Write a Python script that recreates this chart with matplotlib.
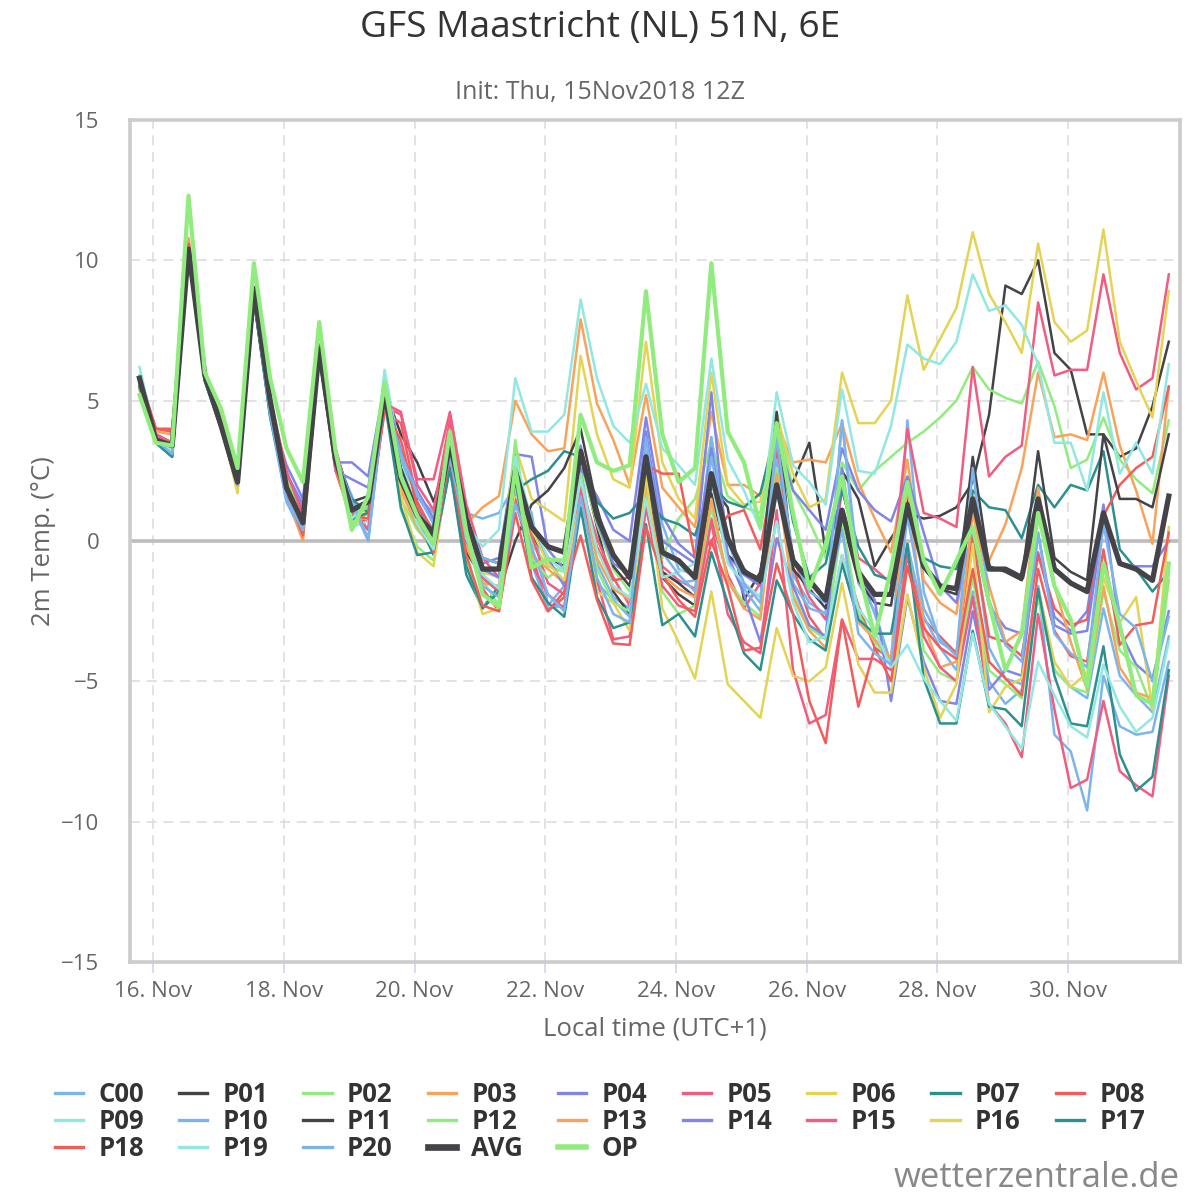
import matplotlib.pyplot as plt
from matplotlib.lines import Line2D
import pandas as pd

plt.rcParams['font.family'] = ['Open Sans', 'DejaVu Sans']

# 6-hourly steps, local time (UTC+1), init 15 Nov 2018 12Z
times = pd.date_range('2018-11-15 19:00', periods=64, freq='6h')

c00 = [5.8, 3.6, 3.1, 10.3, 5.8, 4.0, 2.0, 8.7, 4.5, 1.4, 0.3, 6.8, 3.0, 1.6, 0.0, 5.0,
       3.2, 1.6, 0.7, 3.2, 1.0, 0.8, 1.0, 2.0,
       1.0, -2.3, -1.6, 2.6, -0.8, -2.0, -2.4, 3.7,
       0.6, -1.0, -1.2, 3.7, 0.1, -1.6, -2.0, 2.9,
       -1.2, -2.2, -2.6, 4.3, -1.5, -2.5, -4.4, 4.3,
       -1.8, -3.6, -4.0, 0.3, -3.8, -4.9, -5.1, -1.6,
       -4.6, -5.2, -5.6, -2.4, -4.8, -5.5, -6.1, -3.4]
p01 = [5.7, 3.8, 3.5, 10.4, 6.0, 4.3, 2.2, 8.8, 4.9, 2.3, 1.0, 6.8, 3.2, 1.4, 1.6, 5.4,
       3.8, 2.8, 1.4, 3.3, 0.6, -0.6, -0.8, 2.2,
       0.2, -0.6, -0.9, 3.0, 0.5, -1.8, -2.6, 2.3,
       -1.3, -1.9, -2.3, 2.0, 1.2, -2.1, -1.1, 2.6,
       2.1, 3.5, -0.4, 2.5, 1.5, -0.9, 0.1, 1.0,
       0.8, 0.9, 1.2, 2.1, 4.5, 9.1, 8.8, 10.0,
       6.7, 6.1, 3.8, 3.8, 3.0, 3.3, 4.8, 7.1]
p02 = [5.4, 3.6, 3.3, 10.6, 6.0, 4.4, 2.3, 9.0, 5.0, 2.3, 0.9, 7.0, 3.0, 0.7, 1.5, 5.5,
       1.5, 0.4, -0.2, 3.6, 0.2, -1.2, -0.9, 3.0,
       -0.1, -0.9, -1.1, 2.8, 0.6, -1.0, -1.8, 2.4,
       -0.6, 0.8, 1.5, 3.5, 1.6, 1.2, 1.0, 4.6,
       1.8, 0.7, -0.6, 2.8, 1.8, 2.5, 3.0, 3.5,
       3.9, 4.4, 5.0, 6.2, 5.4, 5.1, 4.9, 6.4,
       4.8, 2.6, 2.9, 4.4, 2.9, 2.2, 1.7, 4.3]
p03 = [5.8, 4.0, 3.9, 10.8, 6.1, 4.1, 1.9, 8.7, 4.7, 1.6, 0.0, 6.6, 2.6, 1.0, 1.2, 5.1,
       1.8, 0.5, -0.4, 3.2, 0.6, 1.2, 1.6, 5.0,
       3.8, 3.2, 3.3, 7.9, 4.9, 3.6, 2.0, 5.2,
       1.9, 1.2, 0.5, 4.6, 2.0, 2.0, 1.6, 4.2,
       2.8, 2.9, 2.8, 4.2, 2.1, 0.8, -0.4, 2.9,
       -1.4, -2.2, -2.6, 1.7, -0.7, 0.6, 2.6, 6.0,
       3.7, 3.8, 3.6, 6.0, 3.4, 1.8, -0.1, 5.5]
p04 = [5.6, 3.7, 3.3, 10.4, 5.9, 4.2, 2.4, 8.7, 4.6, 2.7, 1.5, 6.6, 2.8, 2.8, 2.3, 5.6,
       2.6, 1.2, 0.4, 3.0, 0.2, -0.8, -0.6, 3.1,
       3.0, -0.3, -1.0, 2.6, 1.6, 0.4, 0.0, 4.4,
       0.9, -0.1, -0.6, 5.3, -0.5, -1.2, -1.6, 3.7,
       1.8, 1.1, 0.4, 3.3, 1.8, 1.1, 0.7, 2.3,
       0.3, -1.6, -2.2, 0.4, -2.3, -3.1, -3.3, -0.4,
       -2.7, -3.2, -2.5, 1.3, -3.2, -4.4, -4.9, -2.5]
p05 = [5.7, 3.8, 3.5, 10.6, 5.9, 4.2, 2.0, 8.9, 5.0, 2.4, 1.2, 7.0, 3.3, 1.2, 0.4, 4.8,
       4.5, 2.2, 2.2, 4.6, 1.3, -0.6, -1.3, 2.2,
       0.2, -1.5, -1.9, 2.0, 0.1, -1.3, -2.3, 2.9,
       -0.9, -1.4, -1.7, 0.8, -1.2, -2.4, -1.5, 3.4,
       -0.6, -2.0, -2.8, 1.9, -0.6, -1.0, -1.5, 4.0,
       1.0, 0.8, 0.5, 6.2, 2.3, 3.0, 3.4, 8.5,
       5.9, 6.1, 6.1, 9.5, 6.7, 5.4, 5.8, 9.5]
p06 = [5.5, 3.7, 3.4, 10.4, 5.8, 4.2, 1.8, 8.9, 4.8, 1.9, 0.4, 6.7, 2.6, 0.6, 1.1, 5.2,
       2.3, 0.8, 0.0, 3.3, 0.4, -1.1, -1.3, 3.4,
       1.5, 1.1, 0.7, 6.6, 3.8, 2.2, 1.9, 7.1,
       2.8, 1.5, 0.8, 6.0, 2.0, 1.3, 1.4, 4.5,
       2.4, 1.2, 1.5, 6.0, 4.2, 4.2, 5.0, 8.75,
       6.1, 7.2, 8.3, 11.0, 8.8, 7.8, 6.7, 10.6,
       7.8, 7.1, 7.5, 11.1, 7.1, 5.7, 4.4, 8.9]
p07 = [5.5, 3.5, 3.0, 10.2, 5.7, 4.0, 2.0, 8.6, 4.5, 1.6, 0.3, 6.6, 2.7, 1.5, 1.0, 5.0,
       2.2, 0.8, -0.5, 2.6, -1.2, -2.4, -1.6, 1.8,
       2.2, 2.5, 3.2, 3.0, 1.4, 0.8, 1.0, 1.7,
       0.8, 0.6, 0.2, 2.0, 1.4, 1.2, 1.7, 4.0,
       0.7, -1.3, -0.8, 1.8, -0.2, -1.2, -1.4, 1.6,
       -0.6, -0.9, -1.0, 1.8, 1.2, 1.1, 0.1, 2.0,
       1.2, 2.0, 1.8, 3.2, -0.3, -1.0, -1.8, -1.1]
p08 = [5.9, 4.0, 4.0, 10.7, 6.0, 4.3, 2.2, 8.8, 4.6, 1.9, 0.3, 6.7, 2.5, 0.8, 0.7, 4.6,
       4.2, 1.4, 0.3, 3.7, 0.3, -1.7, -2.5, 1.4,
       -0.4, -2.5, -2.0, 1.8, -0.2, -1.4, -1.3, 2.7,
       2.4, 2.4, -0.6, 0.0, 0.9, 1.1, -0.3, 3.1,
       -0.9, -2.7, -3.5, -0.5, -2.3, -3.8, -4.2, -0.4,
       -2.8, -3.4, -4.0, 0.1, -3.4, -3.6, -4.1, -0.5,
       -2.4, -3.0, -2.8, 0.9, 2.0, 2.6, 3.0, 5.5]
p09 = [6.2, 3.7, 3.3, 10.3, 5.8, 4.1, 2.0, 8.7, 4.6, 1.8, 0.5, 6.8, 2.9, 0.5, 0.7, 6.1,
       3.0, 0.9, 0.4, 3.4, 0.6, -0.2, 0.4, 5.8,
       3.9, 3.9, 4.5, 8.6, 5.8, 4.1, 3.5, 5.6,
       3.3, 2.7, 2.0, 6.5, 2.9, 1.8, 0.4, 5.3,
       2.7, 2.1, 1.3, 5.4, 2.5, 2.4, 4.1, 7.0,
       6.5, 6.3, 7.1, 9.5, 8.2, 8.4, 7.7, 6.3,
       3.5, 3.5, 1.8, 5.3, 2.4, 3.5, 2.4, 6.3]
p10 = [5.6, 3.5, 3.0, 10.2, 5.8, 4.0, 2.0, 8.7, 4.4, 1.4, 0.2, 6.8, 3.0, 1.3, 0.0, 5.1,
       2.9, 1.6, 1.0, 3.1, 0.8, -0.6, -0.8, 2.0,
       -0.8, -2.4, -2.3, 1.2, -1.5, -2.1, -2.7, 3.2,
       -1.1, -1.5, -1.4, 3.7, -0.6, -1.7, -2.5, 2.9,
       -1.5, -2.4, -2.6, 4.3, -1.0, -2.6, -4.4, -0.1,
       -2.7, -3.8, -4.6, -1.8, -5.0, -5.8, -5.3, -1.6,
       -6.9, -7.5, -9.6, -4.8, -6.6, -6.9, -6.8, -4.3]
p11 = [5.5, 3.6, 3.3, 10.2, 5.7, 4.1, 2.0, 8.6, 4.6, 1.8, 0.5, 6.7, 2.7, 0.9, 1.2, 5.2,
       2.6, 1.1, 0.1, 2.8, -0.4, -1.3, -1.8, 0.0,
       1.3, 1.8, 2.6, 4.0, 1.2, -0.9, -1.6, 2.1,
       -1.1, -1.5, -2.0, 1.7, -0.5, -1.0, -1.5, 4.6,
       -1.0, -1.7, -2.4, 0.8, -1.4, -2.2, -2.3, 1.6,
       -0.8, -1.7, -1.9, 3.0, -0.9, -1.1, -1.4, 3.2,
       -0.6, -1.1, -1.4, 3.8, 1.5, 1.5, 1.2, 3.8]
p12 = [5.4, 3.6, 3.2, 10.4, 5.9, 4.3, 2.2, 8.9, 4.8, 2.2, 0.8, 6.9, 2.8, 0.9, 1.2, 5.4,
       1.1, -0.2, -0.7, 3.7, 0.0, -1.4, -2.3, 3.6,
       -0.6, -1.3, -0.9, 2.4, -1.0, -2.2, -2.5, 1.7,
       -1.8, -2.6, -2.3, 1.2, -1.4, -2.2, -2.7, 2.6,
       -1.9, -3.1, -3.5, 0.7, -2.6, -3.6, -4.3, -0.2,
       -3.9, -4.7, -5.0, -1.3, -4.6, -5.1, -5.6, -2.0,
       -4.6, -5.2, -5.4, -1.8, -3.9, -4.5, -6.0, -1.4]
p13 = [5.6, 3.9, 3.8, 10.7, 6.0, 4.0, 1.9, 8.8, 4.6, 1.7, 0.1, 6.7, 2.6, 0.8, 1.0, 5.0,
       2.0, 0.7, 0.0, 3.0, -0.2, -1.5, -1.6, 2.3,
       -0.5, -1.0, -1.5, 2.2, -0.6, -1.7, -2.1, 2.0,
       -1.2, -1.7, -2.0, 1.5, -1.4, -2.4, -2.8, 2.4,
       -2.0, -3.2, -3.8, -0.7, -2.9, -3.5, -4.2, 2.0,
       -3.0, -4.5, -4.3, 1.0, -1.6, -3.6, -3.2, 1.9,
       -1.6, -3.6, -5.3, -1.6, -4.5, -5.4, -5.6, -1.1]
p14 = [5.7, 3.7, 3.4, 10.5, 5.9, 4.2, 2.1, 8.8, 4.5, 2.4, 1.3, 6.8, 2.5, 2.2, 1.9, 5.6,
       3.2, 1.8, 0.8, 3.3, 0.0, -1.0, -1.3, 1.9,
       0.5, -0.6, -1.6, 3.4, 0.7, -0.8, -1.2, 3.9,
       0.0, -0.4, -0.8, 3.3, -0.5, -1.9, -3.6, 0.1,
       -1.6, -3.0, -3.4, 2.6, -1.2, -2.1, -5.7, -2.0,
       -4.3, -5.7, -5.8, -2.5, -5.3, -4.6, -4.8, 0.3,
       -3.0, -3.3, -3.2, 0.8, -0.8, -0.9, -0.9, 0.0]
p15 = [5.5, 3.7, 3.5, 10.5, 5.9, 4.3, 2.2, 8.9, 5.1, 2.5, 0.9, 6.9, 3.0, 1.0, 0.4, 4.9,
       4.6, 2.0, 1.1, 4.3, 0.9, -1.3, -1.8, 1.5,
       -0.8, -1.9, -2.4, 1.9, -1.4, -3.5, -3.4, 1.2,
       -1.6, -2.3, -2.5, 0.7, -2.6, -3.6, -4.0, 1.1,
       -4.6, -6.5, -6.2, -2.8, -4.2, -4.2, -4.6, -0.5,
       -3.4, -4.5, -5.0, -2.0, -5.8, -6.5, -7.7, -2.6,
       -6.0, -8.8, -8.5, -5.7, -8.2, -8.7, -9.1, -4.8]
p16 = [5.4, 3.6, 3.3, 10.3, 5.8, 4.2, 1.7, 8.8, 4.9, 2.1, 0.5, 6.8, 2.8, 0.5, 1.0, 5.3,
       1.6, -0.4, -0.9, 3.1, -0.7, -2.6, -2.4, 1.9,
       0.4, -0.8, -1.4, 1.5, -1.8, -2.2, -3.2, 2.4,
       -2.4, -3.6, -4.9, -1.8, -5.1, -5.7, -6.3, -3.1,
       -4.8, -5.0, -4.5, -1.5, -4.4, -5.4, -5.4, -1.9,
       -4.5, -6.3, -5.1, -0.1, -6.1, -5.2, -4.9, -1.7,
       -4.3, -5.2, -4.7, -1.3, -2.9, -2.0, -6.0, 0.5]
p17 = [5.5, 3.5, 3.0, 10.2, 5.7, 4.0, 2.0, 8.6, 4.4, 1.7, 0.3, 6.6, 2.7, 0.8, 1.0, 5.0,
       1.2, -0.5, -0.4, 2.6, -0.9, -2.4, -1.8, 2.2,
       -1.3, -2.2, -2.7, 1.2, -2.0, -3.1, -2.9, 0.6,
       -3.0, -2.6, -3.4, -0.4, -2.2, -4.0, -4.6, -1.4,
       -2.6, -3.5, -3.9, -0.8, -2.8, -3.3, -3.3, -0.1,
       -4.9, -6.5, -6.5, -3.2, -5.9, -6.0, -6.6, -1.7,
       -4.8, -6.5, -6.6, -3.75, -7.6, -8.9, -8.4, -4.6]
p18 = [5.8, 4.0, 3.9, 10.6, 6.0, 4.2, 2.0, 8.7, 4.7, 1.8, 0.2, 6.7, 2.6, 0.9, 0.8, 4.7,
       3.6, 1.2, -0.4, 3.1, -0.5, -2.3, -2.5, 1.0,
       -1.4, -2.5, -1.8, 0.2, -2.1, -3.65, -3.7, 0.5,
       -1.2, -2.1, -2.7, 0.0, -1.6, -3.9, -3.8, -0.8,
       -2.6, -5.7, -7.2, -2.8, -5.9, -3.8, -5.0, -0.9,
       -3.1, -3.8, -4.2, -1.0, -4.3, -4.9, -5.5, -1.0,
       -3.2, -4.1, -4.3, -0.3, -3.7, -3.0, -2.9, 0.3]
p19 = [5.9, 3.6, 3.2, 10.3, 5.8, 4.0, 2.0, 8.8, 4.7, 1.9, 0.4, 6.7, 3.0, 0.8, 1.4, 5.9,
       2.4, 0.6, -0.3, 3.4, 0.1, -1.2, -1.7, 3.0,
       0.7, -0.6, -1.1, 2.2, -0.3, -1.6, -2.0, 1.5,
       -1.3, -1.1, -0.8, 2.2, -0.8, -1.5, -2.0, 0.7,
       -2.2, -3.6, -3.4, -0.5, -2.4, -3.2, -4.5, -3.7,
       -4.9, -5.7, -6.4, -3.3, -5.8, -6.6, -7.4, -4.3,
       -5.5, -6.6, -7.0, -4.4, -5.9, -6.8, -6.3, -3.6]
p20 = [5.7, 3.6, 3.1, 10.3, 5.8, 4.1, 2.0, 8.8, 4.5, 1.5, 0.4, 6.9, 3.1, 1.4, 0.1, 5.1,
       3.1, 1.7, 0.6, 3.0, 0.2, -1.6, -2.0, 1.3,
       -0.2, -1.9, -2.5, 1.6, -1.3, -2.6, -2.9, 3.7,
       -0.4, -1.2, -1.8, 3.0, 0.0, -1.5, -2.2, 3.7,
       -0.6, -1.8, -2.2, 0.4, -3.3, -4.0, -4.4, 0.9,
       -2.4, -3.5, -4.1, 2.6, -2.1, -3.7, -4.3, 0.3,
       -3.3, -4.0, -4.5, 0.6, -2.6, -3.1, -5.0, -2.7]
avg = [5.8, 3.6, 3.4, 10.4, 5.9, 4.1, 2.1, 9.0, 5.0, 1.9, 0.65, 6.85, 2.9, 1.1, 1.4, 5.3,
       2.2, 0.9, 0.3, 3.5, 0.8, -1.0, -1.0, 2.5,
       0.5, -0.2, -0.4, 3.2, 0.9, -0.5, -1.3, 3.0,
       -0.4, -0.7, -1.3, 2.4, 0.1, -1.1, -1.4, 2.0,
       -0.7, -1.4, -2.1, 1.1, -1.1, -1.9, -1.9, 1.3,
       -0.9, -1.6, -1.7, 1.5, -1.0, -1.0, -1.3, 1.5,
       -1.0, -1.5, -1.8, 1.0, -0.8, -1.0, -1.4, 1.6]
op = [5.2, 3.5, 3.4, 12.3, 6.0, 4.7, 2.6, 9.9, 5.8, 3.3, 2.1, 7.8, 3.2, 0.4, 1.6, 5.65,
      2.3, 0.9, -0.1, 3.9, 0.35, -1.9, -2.35, 2.6,
      -0.95, -0.65, -0.7, 4.5, 2.8, 2.5, 2.7, 8.9,
      3.8, 2.1, 2.6, 9.9, 3.9, 2.8, 0.5, 4.2,
      1.0, -1.7, -0.1, 2.3, -1.0, -3.4, -1.0, 2.1,
      -0.7, -1.9, -0.7, 0.5, -2.2, -4.6, -3.3, 1.0,
      -1.6, -2.8, -5.2, -0.8, -3.0, -5.5, -5.8, -0.8]

names = ['C00', 'P01', 'P02', 'P03', 'P04', 'P05', 'P06', 'P07', 'P08', 'P09',
         'P10', 'P11', 'P12', 'P13', 'P14', 'P15', 'P16', 'P17', 'P18', 'P19',
         'P20', 'AVG', 'OP']
series = [c00, p01, p02, p03, p04, p05, p06, p07, p08, p09,
          p10, p11, p12, p13, p14, p15, p16, p17, p18, p19,
          p20, avg, op]
palette = ['#7cb5ec', '#434348', '#90ed7d', '#f7a35c', '#8085e9',
           '#f15c80', '#e4d354', '#2b908f', '#f45b5b', '#91e8e1']
colors = [palette[i % 10] for i in range(21)] + ['#434348', '#90ed7d']
widths = [1.8] * 21 + [3.8, 3.0]

fig = plt.figure(figsize=(12, 12), dpi=100)
ax = fig.add_axes([0.1083, 0.1983, 0.875, 0.7017])

ax.axhline(0, color='#bdbdbd', lw=2.6, zorder=1.5)
for name, vals, col, w in zip(names, series, colors, widths):
    ax.plot(times, vals, color=col, lw=w, solid_joinstyle='round', zorder=2)

ax.set_ylim(-15, 15)
ax.set_yticks([-15, -10, -5, 0, 5, 10, 15])
ax.set_yticklabels(['\u221215', '\u221210', '\u22125', '0', '5', '10', '15'])
ax.set_xlim(pd.Timestamp('2018-11-15 15:30'), pd.Timestamp('2018-12-01 17:06'))
ticks = pd.date_range('2018-11-16', '2018-11-30', freq='2D')
ax.set_xticks(ticks)
ax.set_xticklabels([f'{d.day}. Nov' for d in ticks])

ax.grid(True, color='#dddddd', lw=1.2, linestyle=(0, (6, 4)))
ax.set_axisbelow(True)
for s in ax.spines.values():
    s.set_color('#cccccc')
    s.set_linewidth(2.6)
ax.tick_params(axis='both', labelsize=16, labelcolor='#666666')
ax.tick_params(axis='y', length=0, pad=22)
ax.tick_params(axis='x', length=8, width=1.2, color='#ccd6eb', pad=6)

ax.set_ylabel('2m Temp. (\u00b0C)', fontsize=18.5, color='#666666', labelpad=4)
ax.set_xlabel('Local time (UTC+1)', fontsize=18.5, color='#666666', labelpad=10)

fig.text(0.5, 1 - 28 / 1200, 'GFS Maastricht (NL) 51N, 6E', ha='center', va='center',
         fontsize=26.7, color='#333333')
fig.text(0.5, 1 - 93 / 1200, 'Init: Thu, 15Nov2018 12Z', ha='center', va='center',
         fontsize=18, color='#666666')
fig.text(0.983, 1 - 1178 / 1200, 'wetterzentrale.de', ha='right', va='center',
         fontsize=25, color='#888888')

# legend, row-major order in 9 columns
handles = [Line2D([], [], color=c, lw=(w + 0.6 if w < 3 else w + 1)) for c, w in zip(colors, widths)]
order = []
for c in range(9):
    for r in range(3):
        k = c + 9 * r
        if k < len(names):
            order.append(k)
leg = fig.legend([handles[k] for k in order], [names[k] for k in order],
                 loc='upper center', bbox_to_anchor=(0.5, 1 - 1058 / 1200), ncol=9,
                 frameon=False, handlelength=1.1, handletextpad=0.6, columnspacing=1.36,
                 labelspacing=0.0, prop={'weight': 'bold', 'size': 18.5})
for t in leg.get_texts():
    t.set_color('#333333')

fig.savefig('out.png', dpi=100)
